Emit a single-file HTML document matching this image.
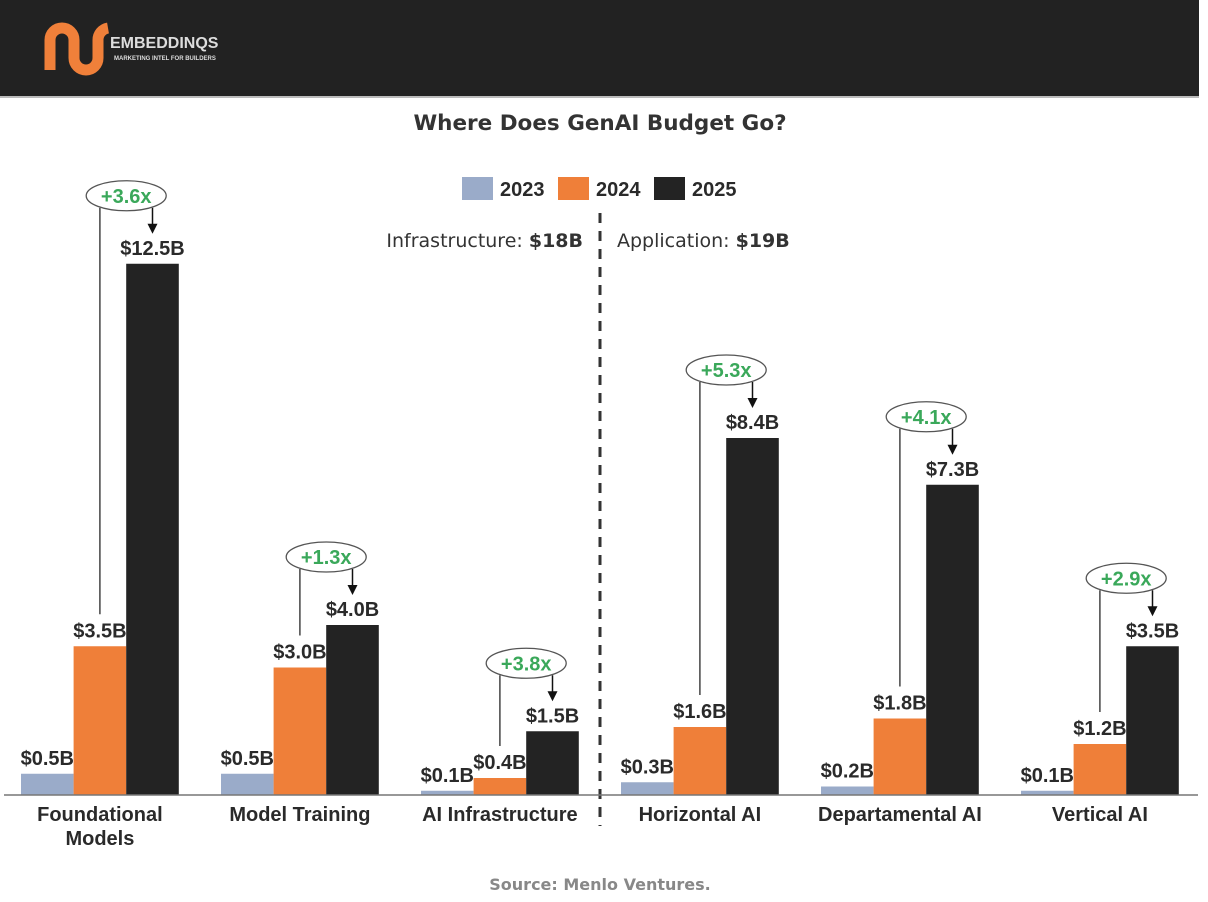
<!DOCTYPE html>
<html><head><meta charset="utf-8"><style>
body{margin:0;background:#fff;width:1208px;height:902px;overflow:hidden;font-family:"Liberation Sans",sans-serif}
#hdr{position:absolute;left:0;top:0;width:1199px;height:96px;background:#222;border-bottom:2px solid #bbb}
</style></head><body>
<div id="hdr">
<svg width="300" height="96">
<path d="M50 70 V40 a12 12 0 0 1 24 0 V58 a12 12 0 0 0 24 0 V40 a12 12 0 0 1 10 -12" fill="none" stroke="#f0803a" stroke-width="11"/>
<text x="110" y="48" fill="#ddd" font-size="16" font-weight="bold">EMBEDDINQS</text>
<text x="114" y="60" fill="#ddd" font-size="6" font-weight="bold">MARKETING INTEL FOR BUILDERS</text>
</svg></div>
<svg id="c" width="1208" height="902" style="position:absolute;left:0;top:0"></svg>
<script>
const categories=["Foundational Models","Model Training","AI Infrastructure","Horizontal AI","Departamental AI","Vertical AI"];
const years=["2023","2024","2025"];
const v2023=[0.5,0.5,0.1,0.3,0.2,0.1];
const v2024=[3.5,3.0,0.4,1.6,1.8,1.2];
const v2025=[12.5,4.0,1.5,8.4,7.3,3.5];
const growth=["+3.6x","+1.3x","+3.8x","+5.3x","+4.1x","+2.9x"];
const colors=["#9aabc9","#ef7f39","#232323"];
const NS="http://www.w3.org/2000/svg",svg=document.getElementById('c');
const base=795,k=42.5,bw=52.6;
const y=v=>base-v*k, x=(i,j)=>21+200*i+j*bw;
const DV='"DejaVu Sans",sans-serif';
function mk(t,a,txt){const e=document.createElementNS(NS,t);for(const n in a)e.setAttribute(n,a[n]);if(txt!=null)e.textContent=txt;svg.appendChild(e);return e;}
let e;
e=mk('text',{x:600,y:130,'text-anchor':'middle','font-size':21.5,'font-weight':'bold',fill:'#333','font-family':DV},'Where Does GenAI Budget Go?');


const lx=[462,558,654];
years.forEach((yr,j)=>{
 e=mk('rect',{x:lx[j],y:177,width:31,height:23,fill:colors[j]});
 
 
 e=mk('text',{x:lx[j]+38,y:196,'font-size':20,'font-weight':'bold',fill:'#2a2a2a'},yr);
 
 
});
e=mk('text',{x:583,y:247,'text-anchor':'end','font-size':19,fill:'#333','font-family':DV});
e.innerHTML='Infrastructure: <tspan font-weight="bold">$18B</tspan>';


e=mk('text',{x:617,y:247,'font-size':19,fill:'#333','font-family':DV});
e.innerHTML='Application: <tspan font-weight="bold">$19B</tspan>';


e=mk('line',{x1:600,y1:213,x2:600,y2:826,stroke:'#333','stroke-width':3,'stroke-dasharray':'10 8'});


const series=[v2023,v2024,v2025];
categories.forEach((c,i)=>{
 series.forEach((s,j)=>{
  e=mk('rect',{x:x(i,j),y:y(s[i]),width:bw,height:s[i]*k,fill:colors[j]});
  
  
  e=mk('text',{x:x(i,j)+bw/2,y:y(s[i])-9,'text-anchor':'middle','font-size':20,'font-weight':'bold',fill:'#2a2a2a'},'$'+s[i].toFixed(1)+'B');
  
  
 });
 const cx=x(i,2),cy=y(v2025[i])-68;
 e=mk('line',{x1:x(i,1)+bw/2,y1:cy+12,x2:x(i,1)+bw/2,y2:y(v2024[i])-32,stroke:'#444','stroke-width':1.5});
 
 
 e=mk('line',{x1:x(i,2)+bw/2,y1:cy+12,x2:x(i,2)+bw/2,y2:y(v2025[i])-38,stroke:'#111','stroke-width':1.5});
 
 
 const ax=x(i,2)+bw/2,ay=y(v2025[i])-30;
 e=mk('polygon',{points:`${ax-5},${ay-10} ${ax+5},${ay-10} ${ax},${ay}`,fill:'#111'});
 
 
 e=mk('ellipse',{cx:cx,cy:cy,rx:40,ry:15,fill:'#fff',stroke:'#555','stroke-width':1.3});
 
 
 e=mk('text',{x:cx,y:cy+7,'text-anchor':'middle','font-size':20,'font-weight':'bold',fill:'#3aa85a'},growth[i]);
 
 
 const words=i==0?["Foundational","Models"]:[c];
 words.forEach((w,wi)=>{
  e=mk('text',{x:x(i,1)+bw/2,y:821+wi*24,'text-anchor':'middle','font-size':20,'font-weight':'bold',fill:'#2a2a2a'},w);
  
  
 });
});
e=mk('line',{x1:4,y1:base,x2:1198,y2:base,stroke:'#777','stroke-width':1.5});


e=mk('text',{x:600,y:890,'text-anchor':'middle','font-size':16,'font-weight':'bold',fill:'#888','font-family':DV},'Source: Menlo Ventures.');


</script>
</body></html>
